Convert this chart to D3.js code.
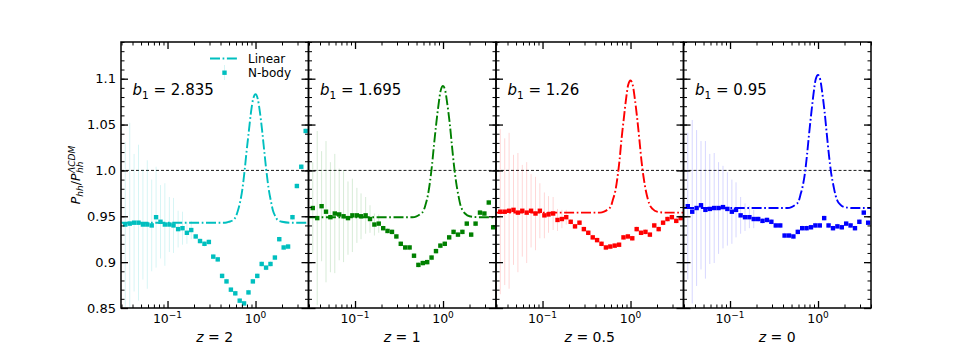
<!DOCTYPE html>
<html>
<head>
<meta charset="utf-8">
<script src="https://cdn.jsdelivr.net/npm/d3@7"></script>
<style>
body { margin: 0; background: #fff; }
text { font-family: "DejaVu Sans", sans-serif; fill: #000; }
</style>
</head>
<body>
<script>
// k bins of the N-body measurement (h/Mpc)
var kBins = [0.0331, 0.0372, 0.0417, 0.0468, 0.0525, 0.0589, 0.0661, 0.0741, 0.0832, 0.0933,
  0.105, 0.117, 0.132, 0.148, 0.166, 0.186, 0.209, 0.234, 0.263, 0.295,
  0.331, 0.372, 0.417, 0.468, 0.525, 0.589, 0.661, 0.741, 0.832, 0.933,
  1.047, 1.175, 1.318, 1.479, 1.660, 1.862, 2.089, 2.344, 2.630, 2.951,
  3.311, 3.715];

// N-body ratio, one array per redshift
var nbodyZ2 = [0.941, 0.942, 0.943, 0.943, 0.941, 0.941, 0.940, 0.949, 0.944, 0.941,
  0.941, 0.940, 0.936, 0.937, 0.932, 0.935, 0.928, 0.923, 0.920, 0.922,
  0.906, 0.903, 0.885, 0.879, 0.870, 0.866, 0.858, 0.855, 0.867, 0.879,
  0.885, 0.898, 0.894, 0.898, 0.905, 0.925, 0.916, 0.917, 0.949, 0.983,
  1.004, 1.043];
var nbodyZ1 = [0.959, 0.948, 0.961, 0.955, 0.949, 0.953, 0.952, 0.950, 0.948, 0.951,
  0.951, 0.950, 0.951, 0.947, 0.941, 0.942, 0.937, 0.934, 0.933, 0.928,
  0.920, 0.916, 0.916, 0.907, 0.897, 0.899, 0.900, 0.905, 0.912, 0.918,
  0.920, 0.927, 0.933, 0.930, 0.933, 0.942, 0.930, 0.942, 0.954, 0.953,
  0.965, 0.938];
var nbodyZ05 = [0.955, 0.955, 0.956, 0.957, 0.954, 0.956, 0.954, 0.956, 0.953, 0.956,
  0.951, 0.952, 0.953, 0.946, 0.947, 0.949, 0.944, 0.939, 0.943, 0.936,
  0.932, 0.927, 0.924, 0.920, 0.916, 0.917, 0.918, 0.919, 0.927, 0.928,
  0.926, 0.936, 0.932, 0.933, 0.930, 0.940, 0.936, 0.943, 0.947, 0.949,
  0.945, 0.948];
var nbodyZ0 = [0.961, 0.955, 0.959, 0.962, 0.957, 0.958, 0.959, 0.959, 0.960, 0.958,
  0.955, 0.957, 0.951, 0.949, 0.949, 0.947, 0.947, 0.945, 0.946, 0.944,
  0.940, 0.940, 0.929, 0.929, 0.928, 0.933, 0.937, 0.937, 0.938, 0.940,
  0.940, 0.948, 0.940, 0.937, 0.939, 0.938, 0.942, 0.940, 0.937, 0.944,
  0.954, 0.943];

// error bars (only the first bins are visibly large)
var errZ2 = [0.09, 0.11, 0.075, 0.085, 0.06, 0.07, 0.05, 0.055, 0.04, 0.045, 0.03, 0.03, 0.02, 0.018, 0.012, 0.01];
var errZ1 = [0.05, 0.095, 0.06, 0.077, 0.06, 0.065, 0.05, 0.05, 0.04, 0.04, 0.03, 0.025, 0.02, 0.015, 0.012, 0.01];
var errZ05 = [0.09, 0.08, 0.085, 0.06, 0.065, 0.05, 0.055, 0.04, 0.04, 0.03, 0.025, 0.02, 0.018, 0.012, 0.01, 0.008];
var errZ0 = [0.08, 0.1, 0.085, 0.07, 0.075, 0.06, 0.06, 0.05, 0.045, 0.04, 0.035, 0.03, 0.02, 0.015, 0.012, 0.01];

// linear prediction
var kLin = [0.03, 0.1, 0.3, 0.45, 0.50, 0.56, 0.60, 0.63, 0.67, 0.71, 0.75, 0.79, 0.84, 0.89, 0.94,
  1.0, 1.06, 1.12, 1.19, 1.26, 1.33, 1.41, 1.50, 1.58, 1.68, 1.78, 2.0, 2.5, 4.0];
var linZ2 = [0.943, 0.943, 0.943, 0.943, 0.944, 0.946, 0.950, 0.956, 0.966, 0.980, 0.999, 1.020, 1.043, 1.064, 1.078,
  1.083, 1.078, 1.064, 1.043, 1.020, 0.999, 0.980, 0.966, 0.956, 0.950, 0.946, 0.944, 0.943, 0.943];
var linZ1 = [0.949, 0.949, 0.949, 0.949, 0.950, 0.953, 0.956, 0.962, 0.972, 0.987, 1.006, 1.028, 1.052, 1.072, 1.087,
  1.092, 1.087, 1.072, 1.052, 1.028, 1.006, 0.987, 0.972, 0.962, 0.956, 0.953, 0.950, 0.949, 0.949];
var linZ05 = [0.954, 0.954, 0.954, 0.954, 0.955, 0.958, 0.961, 0.968, 0.977, 0.992, 1.011, 1.034, 1.057, 1.078, 1.093,
  1.098, 1.093, 1.078, 1.057, 1.034, 1.011, 0.992, 0.977, 0.968, 0.961, 0.958, 0.955, 0.954, 0.954];
var linZ0 = [0.959, 0.959, 0.959, 0.959, 0.960, 0.963, 0.966, 0.973, 0.983, 0.997, 1.017, 1.039, 1.063, 1.084, 1.099,
  1.104, 1.099, 1.084, 1.063, 1.039, 1.017, 0.997, 0.983, 0.973, 0.966, 0.963, 0.960, 0.959, 0.959];

var redshifts = ['2', '1', '0.5', '0'];
var biases = ['2.835', '1.695', '1.26', '0.95'];
var colors = ['#00bfbf', '#008000', '#ff0000', '#0000ff'];
var yTicks = [0.85, 0.9, 0.95, 1.0, 1.05, 1.1];
var yTickLabels = ['0.85', '0.9', '0.95', '1.0', '1.05', '1.1'];
var xTicks = [0.1, 1];
var xTickExp = ['\u22121', '0'];

var nbody = [nbodyZ2, nbodyZ1, nbodyZ05, nbodyZ0];
var errs = [errZ2, errZ1, errZ05, errZ0];
var lins = [linZ2, linZ1, linZ05, linZ0];

var width = 969, height = 346;
var margin = {left: 121, right: 98, top: 42, bottom: 38};
var pw = (width - margin.left - margin.right) / 4;
var bottom = height - margin.bottom;

var svg = d3.select('body')
  .append('svg')
  .attr('width', width)
  .attr('height', height);

var y = d3.scaleLinear()
  .domain([0.85, 1.14])
  .range([bottom, margin.top]);

var yMinor = d3.range(85, 115).map(function(d) { return d / 100; });

function styleAxis(g, w) {
  g.select('.domain').remove();
  g.selectAll('.tick line').attr('stroke', '#000').attr('stroke-width', w);
}

lins.forEach(function(lin, p) {
  var x0 = margin.left + p * pw;
  var x = d3.scaleLog()
    .domain([0.0296, 4.0])
    .range([x0, x0 + pw]);
  var xMinor = x.ticks().filter(function(v) { return xTicks.indexOf(v) < 0; });
  var col = colors[p];

  var clipId = 'clip' + p;
  svg.append('clipPath').attr('id', clipId)
    .append('rect')
    .attr('x', x0).attr('y', margin.top)
    .attr('width', pw).attr('height', bottom - margin.top);

  var g = svg.append('g');
  var plot = g.append('g').attr('clip-path', 'url(#' + clipId + ')');

  // reference line at unity
  plot.append('line')
    .attr('x1', x0).attr('x2', x0 + pw)
    .attr('y1', y(1)).attr('y2', y(1))
    .attr('stroke', '#000')
    .attr('stroke-width', 0.9)
    .attr('stroke-dasharray', '3,2');

  var pts = kBins.map(function(k, i) {
    return {k: k, v: nbody[p][i], e: errs[p][i] || 0.003};
  });

  //error bars
  plot.selectAll('.err')
    .data(pts)
    .enter()
    .append('line')
    .attr('x1', function(d) { return x(d.k); })
    .attr('x2', function(d) { return x(d.k); })
    .attr('y1', function(d) { return y(d.v - d.e); })
    .attr('y2', function(d) { return y(d.v + d.e); })
    .attr('stroke', col)
    .attr('stroke-opacity', 0.16)
    .attr('stroke-width', 1);

  plot.selectAll('.pt')
    .data(pts)
    .enter()
    .append('rect')
    .attr('x', function(d) { return x(d.k) - 2.2; })
    .attr('y', function(d) { return y(d.v) - 2.2; })
    .attr('width', 4.4)
    .attr('height', 4.4)
    .attr('fill', col);

  var line = d3.line()
    .x(function(d) { return x(d[0]); })
    .y(function(d) { return y(d[1]); })
    .curve(d3.curveMonotoneX);

  plot.append('path')
    .datum(kLin.map(function(k, i) { return [k, lin[i]]; }))
    .attr('d', line)
    .attr('fill', 'none')
    .attr('stroke', col)
    .attr('stroke-width', 1.9)
    .attr('stroke-dasharray', '10,2.6,1.7,2.6');

  //ticks on all four sides, pointing inward
  g.append('g').attr('transform', 'translate(0,' + bottom + ')')
    .call(d3.axisBottom(x).tickValues(xTicks).tickSizeInner(-7).tickSizeOuter(0).tickFormat(''))
    .call(styleAxis, 1.3);
  g.append('g').attr('transform', 'translate(0,' + bottom + ')')
    .call(d3.axisBottom(x).tickValues(xMinor).tickSizeInner(-3.5).tickSizeOuter(0).tickFormat(''))
    .call(styleAxis, 1);
  g.append('g').attr('transform', 'translate(0,' + margin.top + ')')
    .call(d3.axisTop(x).tickValues(xTicks).tickSizeInner(-7).tickSizeOuter(0).tickFormat(''))
    .call(styleAxis, 1.3);
  g.append('g').attr('transform', 'translate(0,' + margin.top + ')')
    .call(d3.axisTop(x).tickValues(xMinor).tickSizeInner(-3.5).tickSizeOuter(0).tickFormat(''))
    .call(styleAxis, 1);

  g.append('g').attr('transform', 'translate(' + x0 + ',0)')
    .call(d3.axisLeft(y).tickValues(yTicks).tickSizeInner(-7).tickSizeOuter(0).tickPadding(5)
      .tickFormat(function(d, i) { return p === 0 ? yTickLabels[i] : ''; }))
    .call(styleAxis, 1.3)
    .selectAll('text').attr('font-size', 13).attr('font-family', 'DejaVu Sans').attr('fill', '#000');
  g.append('g').attr('transform', 'translate(' + x0 + ',0)')
    .call(d3.axisLeft(y).tickValues(yMinor).tickSizeInner(-3.5).tickSizeOuter(0).tickFormat(''))
    .call(styleAxis, 1);
  g.append('g').attr('transform', 'translate(' + (x0 + pw) + ',0)')
    .call(d3.axisRight(y).tickValues(yTicks).tickSizeInner(-7).tickSizeOuter(0).tickFormat(''))
    .call(styleAxis, 1.3);
  g.append('g').attr('transform', 'translate(' + (x0 + pw) + ',0)')
    .call(d3.axisRight(y).tickValues(yMinor).tickSizeInner(-3.5).tickSizeOuter(0).tickFormat(''))
    .call(styleAxis, 1);

  g.append('rect')
    .attr('x', x0).attr('y', margin.top)
    .attr('width', pw).attr('height', bottom - margin.top)
    .attr('fill', 'none')
    .attr('stroke', '#000')
    .attr('stroke-width', 1.5);

  // x tick labels 10^n
  xTicks.forEach(function(v, i) {
    var t = g.append('text')
      .attr('x', x(v)).attr('y', bottom + 14.5)
      .attr('text-anchor', 'middle')
      .attr('font-size', 12.5);
    t.append('tspan').text('10');
    t.append('tspan').attr('dy', -5).attr('font-size', 9).text(xTickExp[i]);
  });

  // redshift label
  var zl = g.append('text')
    .attr('x', x0 + pw / 2).attr('y', bottom + 34)
    .attr('text-anchor', 'middle')
    .attr('font-size', 14);
  zl.append('tspan').attr('font-style', 'italic').text('z');
  zl.append('tspan').text(' = ' + redshifts[p]);

  // bias annotation
  var bl = g.append('text')
    .attr('x', x0 + 11.5).attr('y', 95)
    .attr('font-size', 15);
  bl.append('tspan').attr('font-style', 'italic').text('b');
  bl.append('tspan').attr('dy', 3.5).attr('font-size', 10.5).text('1');
  bl.append('tspan').attr('dy', -3.5).text(' = ' + biases[p]);
});

// legend in the first panel
var leg = svg.append('g');
leg.append('line')
  .attr('x1', 210).attr('x2', 238)
  .attr('y1', 58.5).attr('y2', 58.5)
  .attr('stroke', colors[0])
  .attr('stroke-width', 1.9)
  .attr('stroke-dasharray', '10,2.6,1.7,2.6');
leg.append('line')
  .attr('x1', 224.5).attr('x2', 224.5)
  .attr('y1', 65).attr('y2', 80)
  .attr('stroke', colors[0])
  .attr('stroke-opacity', 0.16);
leg.append('rect')
  .attr('x', 222.3).attr('y', 70.5)
  .attr('width', 4.4).attr('height', 4.4)
  .attr('fill', colors[0]);
leg.append('text').attr('x', 248).attr('y', 62.5).attr('font-size', 12).text('Linear');
leg.append('text').attr('x', 248).attr('y', 77).attr('font-size', 12).text('N-body');

// y axis label P_hh / P_hh^LCDM
var yl = svg.append('g');
var main = yl.append('text').attr('font-size', 12.5);
main.append('tspan').attr('font-style', 'italic').text('P');
main.append('tspan').attr('font-style', 'italic').attr('font-size', 9).attr('dy', 2.5).text('hh');
main.append('tspan').attr('dy', -2.5).text('/');
main.append('tspan').attr('font-style', 'italic').text('P');
var L = main.node().getComputedTextLength();
var sup = yl.append('text').attr('x', L + 0.5).attr('y', -5.5).attr('font-size', 9)
  .attr('font-style', 'italic').text('\u039BCDM');
yl.append('text').attr('x', L + 0.5).attr('y', 3).attr('font-size', 9)
  .attr('font-style', 'italic').text('hh');
var total = L + 0.5 + sup.node().getComputedTextLength();
yl.attr('transform', 'translate(80,' + (175 + total / 2) + ') rotate(-90)');
</script>
</body>
</html>
